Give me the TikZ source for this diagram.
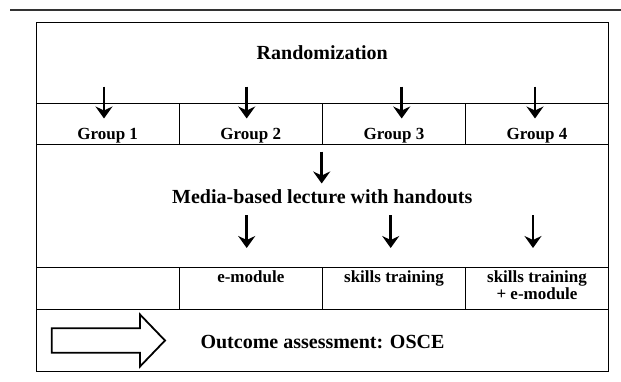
\documentclass[tikz,border=0pt]{standalone}
\usepackage{fontspec}
\setmainfont{Liberation Serif}
\usetikzlibrary{arrows.meta}
\begin{document}
\begin{tikzpicture}[x=1pt,y=-1pt,
  frame/.style={line width=1pt},
  rulebar/.style={line width=2.6pt, black!80},
  flow/.style={line width=2.8pt, -{Stealth[length=12pt,width=17pt,inset=4pt]}},
  blockarrow/.style={line width=1.8pt, fill=white, line join=miter},
  bigtxt/.style={font=\bfseries\fontsize{20}{22}\selectfont, anchor=base, inner sep=0pt},
  smalltxt/.style={font=\bfseries\fontsize{17}{19}\selectfont, anchor=base, inner sep=0pt}]
\useasboundingbox (0,0) rectangle (621,381);
% header rule
\coordinate (ruleL) at (10,10);
\coordinate (ruleR) at (621,10);
\draw[rulebar] (ruleL) -- (ruleR);
% outer frame
\coordinate (tl) at (36,22);
\coordinate (br) at (608,371);
\draw[frame] (tl) rectangle (br);
% horizontal rules
\foreach \yy/\nm in {103.3/h1,144.5/h2,267.5/h3,309.5/h4}{
  \coordinate (\nm L) at (36,\yy);
  \coordinate (\nm R) at (608,\yy);
  \draw[frame] (\nm L) -- (\nm R);
}
% column dividers
\foreach \xx/\nm in {179.3/d1,322.3/d2,465.7/d3}{
  \coordinate (\nm a) at (\xx,103.3);
  \coordinate (\nm b) at (\xx,144.5);
  \coordinate (\nm c) at (\xx,267.5);
  \coordinate (\nm d) at (\xx,309.5);
  \draw[frame] (\nm a) -- (\nm b);
  \draw[frame] (\nm c) -- (\nm d);
}
% texts
\node[bigtxt] (rand) at (322.3,59.5) {Randomization};
\node[smalltxt] (g1) at (107.7,139.5) {Group 1};
\node[smalltxt] (g2) at (250.8,139.5) {Group 2};
\node[smalltxt] (g3) at (394,139.5) {Group 3};
\node[smalltxt] (g4) at (537,139.5) {Group 4};
\node[bigtxt] (media) at (322.3,203) {Media-based lecture with handouts};
\node[smalltxt] (emod) at (250.8,282) {e-module};
\node[smalltxt] (skill) at (394,282) {skills training};
\node[smalltxt] (skilla) at (537,282) {skills training};
\node[smalltxt] (skillb) at (537,299) {+ e-module};
\node[bigtxt] (osce) at (322.5,348) {Outcome assessment: OSCE};
% arrows
\foreach \nm/\xx/\ya/\yb in {a1/104/86.5/118.5, a2/246.7/86.5/118.5, a3/401.7/86.5/118.5, a4/535/86.5/118.5,
  am/321.7/151.5/183.5, b2/246.7/215/248, b3/390.7/215/248, b4/533/215/248}{
  \coordinate (\nm s) at (\xx,\ya);
  \coordinate (\nm e) at (\xx,\yb);
  \draw[flow] (\nm s) -- (\nm e);
}
% block arrow
\draw[blockarrow] (51.7,328.3) -- (140,328.3) -- (140,314.5) -- (165,340.5)
  -- (140,366.5) -- (140,352.7) -- (51.7,352.7) -- cycle;
\end{tikzpicture}
\end{document}
